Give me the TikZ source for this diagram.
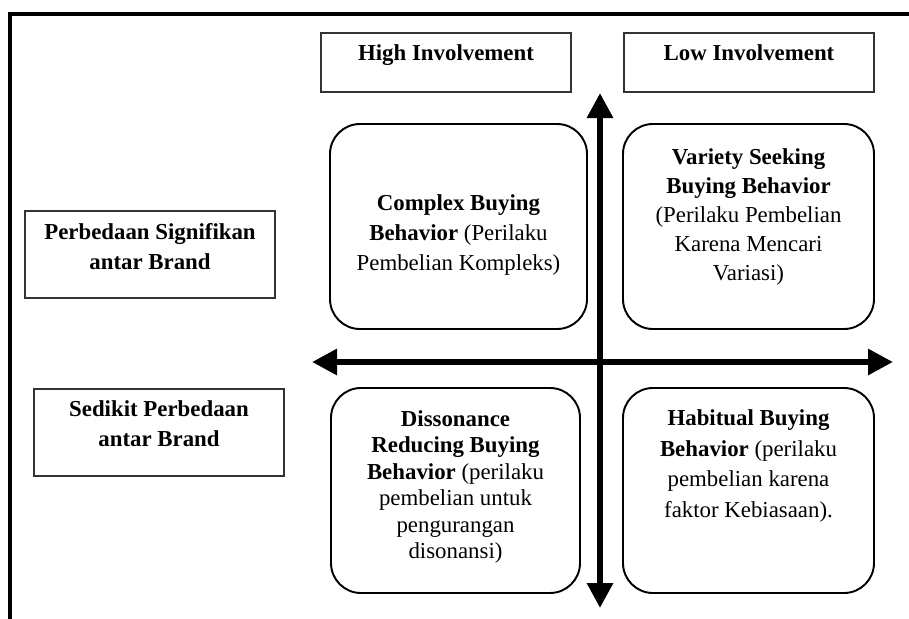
\documentclass[tikz,border=0pt]{standalone}
\usepackage{fontspec}
\setmainfont{Liberation Serif}
\usetikzlibrary{arrows.meta, positioning}
\tikzset{>={Triangle[width=5mm,length=5mm]}}

\begin{document}
\begin{tikzpicture}[
        lbl/.style={draw=black!80, line width=.7pt, minimum width=5cm},
        quad/.style={draw, line width=1.1pt, rounded corners=6mm, minimum width=5.1cm, minimum height=4.1cm},
        txt/.style={align=center, font=\fontsize{13}{17}\selectfont},
        axis/.style={<->, line width=3.4pt}]
        \useasboundingbox (0,0) rectangle (18.18,-12.38);
        \draw [line width=2pt] (0.2,-12.38)--(0.2,-0.28)--(18.18,-0.28);

        % column heads
        \node [lbl, minimum height=1.18cm] (hibox) at (8.92,-1.25) {};
        \node [txt, anchor=base] (hi) at (8.92,-1.2) {\textbf{High Involvement}};
        \node [lbl, minimum height=1.18cm] (lobox) at (14.98,-1.25) {};
        \node [txt, anchor=base] (lo) at (14.98,-1.2) {\textbf{Low Involvement}};

        % row heads
        \node [lbl, minimum height=1.74cm] (sigbox) at (3,-5.09) {};
        \node [txt] (sig) at (3,-4.93) {\textbf{Perbedaan Signifikan}\\\textbf{antar Brand}};
        \node [lbl, minimum height=1.74cm] (fewbox) at (3.18,-8.65) {};
        \node [txt] (few) at (3.18,-8.48) {\textbf{Sedikit Perbedaan}\\\textbf{antar Brand}};

        % quadrants
        \node [quad, minimum width=5.14cm] (complexbox) at (9.17,-4.53) {};
        \node [txt] (complex) at (9.17,-4.7) {\textbf{Complex Buying}\\\textbf{Behavior} (Perilaku\\Pembelian Kompleks)};
        \node [quad, minimum width=5.02cm] (varietybox) at (14.97,-4.53) {};
        \node [txt, font=\fontsize{13}{16.5}\selectfont] (variety) at (14.97,-4.34) {\textbf{Variety Seeking}\\\textbf{Buying Behavior}\\(Perilaku Pembelian\\Karena Mencari\\Variasi)};
        \node [quad, minimum width=4.98cm] (dissbox) at (9.11,-9.81) {};
        \node [txt, font=\fontsize{13}{15}\selectfont] (diss) at (9.11,-9.74) {\textbf{Dissonance}\\\textbf{Reducing Buying}\\\textbf{Behavior} (perilaku\\pembelian untuk\\pengurangan\\disonansi)};
        \node [quad, minimum width=5.02cm] (habitbox) at (14.97,-9.81) {};
        \node [txt, font=\fontsize{13}{17.5}\selectfont] (habit) at (14.97,-9.32) {\textbf{Habitual Buying}\\\textbf{Behavior} (perilaku\\pembelian karena\\faktor Kebiasaan).};

        % axes
        \coordinate (up) at (12,-1.86);
        \coordinate (down) at (12,-12.16);
        \coordinate (left) at (6.24,-7.24);
        \coordinate (right) at (17.86,-7.24);
        \draw [axis] (down)--(up);
        \draw [axis] (left)--(right);
        \end{tikzpicture}
\end{document}
